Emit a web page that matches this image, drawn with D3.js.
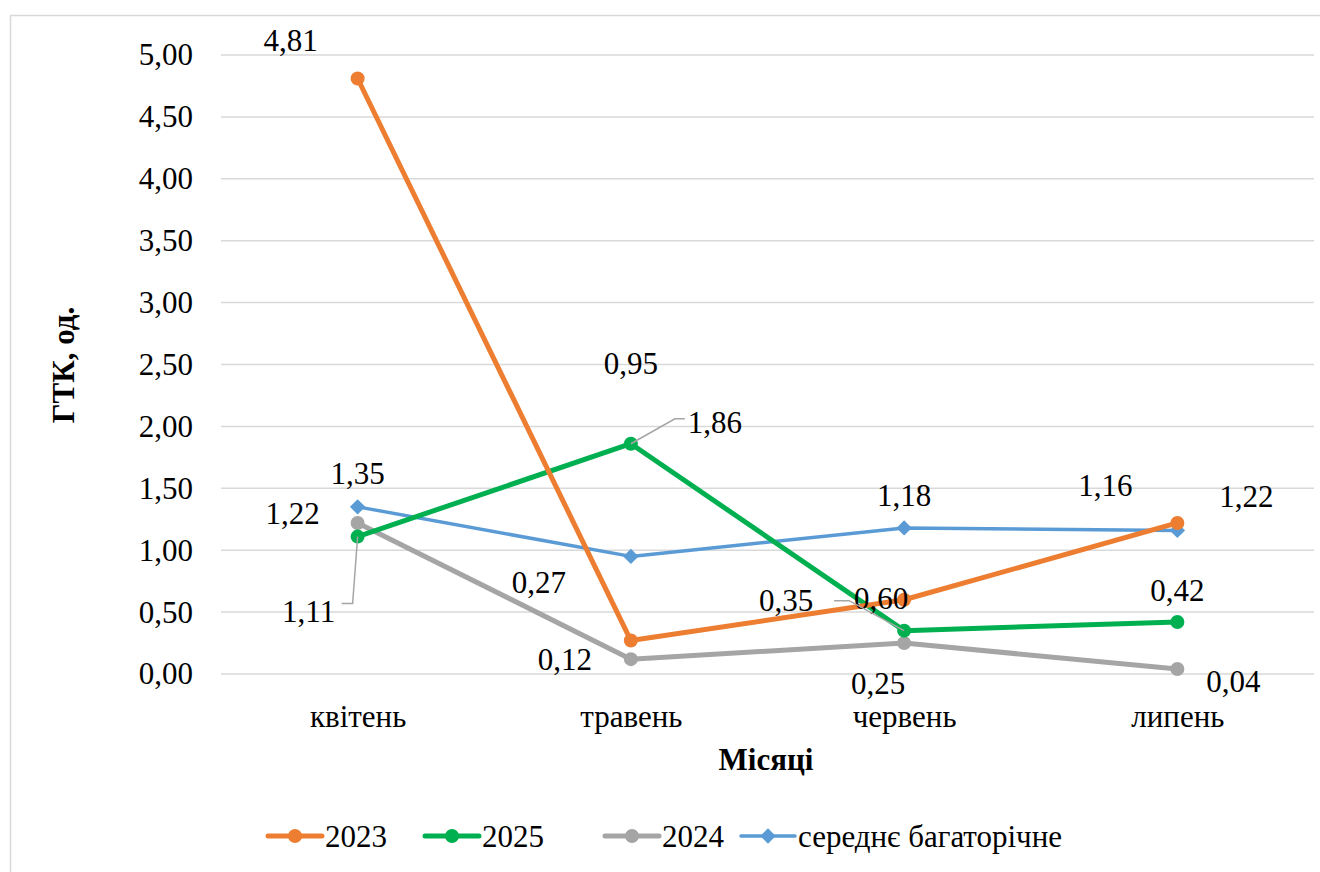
<!DOCTYPE html>
<html>
<head>
<meta charset="utf-8">
<script src="https://cdn.jsdelivr.net/npm/d3@7/dist/d3.min.js"></script>
<style>
  html, body { margin: 0; padding: 0; background: #fff; }
  svg { display: block; }
</style>
</head>
<body>
<svg id="chart" width="1320" height="872" font-family="Liberation Serif"></svg>
<script>
// Months and ГТК values per season
const months = ["квітень", "травень", "червень", "липень"];
const values2023 = [4.81, 0.27, 0.60, 1.22];
const values2025 = [1.11, 1.86, 0.35, 0.42];
const values2024 = [1.22, 0.12, 0.25, 0.04];
const valuesAvg = [1.35, 0.95, 1.18, 1.16];
const yTicks = [0, 0.5, 1, 1.5, 2, 2.5, 3, 3.5, 4, 4.5, 5];

const FONT = "Liberation Serif";
const FS = 31;
const fmt = v => v.toFixed(2).replace(".", ",");

const svg = d3.select("#chart");
const W = 1320, H = 872;

// outer chart frame
svg.append("rect")
  .attr("x", 10.5).attr("y", 15.5)
  .attr("width", W).attr("height", H)
  .attr("fill", "#fff").attr("stroke", "#d9d9d9").attr("stroke-width", 1.5);

const plot = { left: 221, right: 1314, top: 55, bottom: 674 };

const x = d3.scalePoint().domain(months)
  .range([plot.left, plot.right]).padding(0.5);
const y = d3.scaleLinear().domain([0, 5]).range([plot.bottom, plot.top]);

// horizontal gridlines
svg.append("g").selectAll("line").data(yTicks).join("line")
  .attr("x1", plot.left).attr("x2", plot.right)
  .attr("y1", d => y(d)).attr("y2", d => y(d))
  .attr("stroke", "#d9d9d9").attr("stroke-width", 1.5);

// y axis labels
const yAxis = d3.axisLeft(y).tickValues(yTicks).tickFormat(fmt).tickSize(0).tickPadding(28);
const gy = svg.append("g").attr("transform", `translate(${plot.left},0)`).call(yAxis)
  .attr("font-family", FONT).attr("font-size", FS);
gy.select(".domain").remove();
gy.selectAll("text").attr("fill", "#000").attr("font-family", FONT);

// x axis labels
const xAxis = d3.axisBottom(x).tickSize(0).tickPadding(31);
const gx = svg.append("g").attr("transform", `translate(0,${plot.bottom})`).call(xAxis)
  .attr("font-family", FONT).attr("font-size", FS);
gx.select(".domain").remove();
gx.selectAll("text").attr("fill", "#000").attr("font-family", FONT);

// axis titles
svg.append("text")
  .attr("transform", `translate(74,365) rotate(-90)`)
  .attr("text-anchor", "middle").attr("font-weight", "bold").attr("font-size", FS)
  .attr("font-family", FONT)
  .text("ГТК, од.");
svg.append("text")
  .attr("x", 766).attr("y", 770)
  .attr("text-anchor", "middle").attr("font-weight", "bold").attr("font-size", FS)
  .attr("font-family", FONT)
  .text("Місяці");

const series = [
  { name: "2023", values: values2023, color: "#ED7D31", width: 5, marker: "circle" },
  { name: "2025", values: values2025, color: "#00B050", width: 5, marker: "circle" },
  { name: "2024", values: values2024, color: "#A5A5A5", width: 5, marker: "circle" },
  { name: "середнє багаторічне", values: valuesAvg, color: "#5B9BD5", width: 3.5, marker: "diamond" }
];

const line = d3.line().x(d => x(d.m)).y(d => y(d.v));
const diamond = d3.symbol().type(d3.symbolDiamond2).size(150);

// draw order: average first, then gray, green, orange on top
const drawOrder = [3, 2, 1, 0];
drawOrder.forEach(i => {
  const s = series[i];
  const pts = s.values.map((v, j) => ({ m: months[j], v }));
  const g = svg.append("g");
  g.append("path").datum(pts)
    .attr("d", line).attr("fill", "none")
    .attr("stroke", s.color).attr("stroke-width", s.width)
    .attr("stroke-linejoin", "round").attr("stroke-linecap", "round");
  if (s.marker === "circle") {
    g.selectAll("circle").data(pts).join("circle")
      .attr("cx", d => x(d.m)).attr("cy", d => y(d.v)).attr("r", 7)
      .attr("fill", s.color);
  } else {
    g.selectAll("path.mk").data(pts).join("path").attr("class", "mk")
      .attr("transform", d => `translate(${x(d.m)},${y(d.v)})`)
      .attr("d", diamond).attr("fill", s.color);
  }
});

// data labels: offset from the point (dx, dy) and optional leader line
const labelOffsets = {
  "2023": [[-67, -38], [-92, -58], [-23, -1], [69, -26]],
  "2025": [[-49, 75], [84, -21], [-118, -30], [0, -32]],
  "2024": [[-65, -9], [-66, 0], [-26, 40], [56, 12]],
  "середнє багаторічне": [[0, -33], [0, -193], [0, -32], [-72, -45]]
};
const leaders = {
  "2025": {
    0: [[0, 0], [-5, 67], [-16, 67]],
    1: [[0, 0], [44, -25], [54, -25]],
    2: [[0, 0], [-55, -30], [-70, -30]]
  }
};

series.forEach(s => {
  const offs = labelOffsets[s.name];
  s.values.forEach((v, j) => {
    const px = x(months[j]), py = y(v);
    const ld = leaders[s.name] && leaders[s.name][j];
    if (ld) {
      svg.append("path")
        .attr("d", d3.line()(ld.map(p => [px + p[0], py + p[1]])))
        .attr("fill", "none").attr("stroke", "#a5a5a5").attr("stroke-width", 1.5);
    }
    svg.append("text")
      .attr("x", px + offs[j][0]).attr("y", py + offs[j][1])
      .attr("text-anchor", "middle").attr("dominant-baseline", "central")
      .attr("font-size", FS).attr("font-family", FONT)
      .text(fmt(v));
  });
});

// legend
const legendItems = [
  { s: series[0], x: 268 },
  { s: series[1], x: 425 },
  { s: series[2], x: 605 },
  { s: series[3], x: 741 }
];
const ly = 836;
legendItems.forEach(it => {
  const g = svg.append("g");
  g.append("line").attr("x1", it.x).attr("x2", it.x + 54)
    .attr("y1", ly).attr("y2", ly)
    .attr("stroke", it.s.color).attr("stroke-width", it.s.width)
    .attr("stroke-linecap", "round");
  if (it.s.marker === "circle") {
    g.append("circle").attr("cx", it.x + 27).attr("cy", ly).attr("r", 7).attr("fill", it.s.color);
  } else {
    g.append("path").attr("transform", `translate(${it.x + 27},${ly})`)
      .attr("d", diamond).attr("fill", it.s.color);
  }
  g.append("text").attr("x", it.x + 57).attr("y", ly)
    .attr("dominant-baseline", "central").attr("font-size", FS).attr("font-family", FONT)
    .text(it.s.name);
});
</script>
</body>
</html>
